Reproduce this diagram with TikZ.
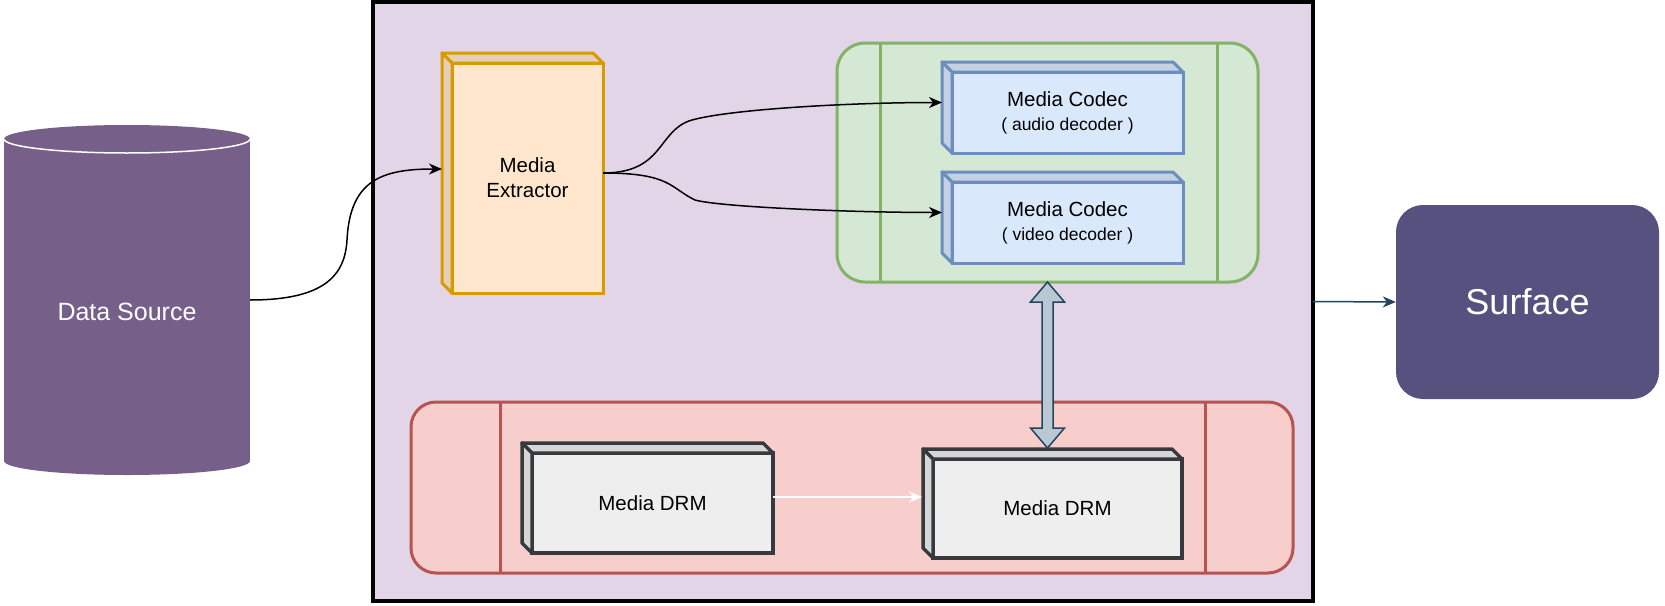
\documentclass[tikz,border=0pt]{standalone}
\usepackage{fontspec}
\setmainfont{Liberation Sans}
\usepackage{xcolor}
\usepackage{tikz}
\usetikzlibrary{positioning}
\usetikzlibrary{arrows.meta}
\usetikzlibrary{calc}

\definecolor{frameFill}{HTML}{E1D5E7}
\definecolor{srcFill}{HTML}{76608A}
\definecolor{extFill}{HTML}{FFE6CC}
\definecolor{extLine}{HTML}{D79B00}
\definecolor{codecBg}{HTML}{D5E8D4}
\definecolor{codecBgLine}{HTML}{82B366}
\definecolor{codecFill}{HTML}{DAE8FC}
\definecolor{codecLine}{HTML}{6C8EBF}
\definecolor{drmBg}{HTML}{F8CECC}
\definecolor{drmBgLine}{HTML}{B85450}
\definecolor{drmFill}{HTML}{EEEEEE}
\definecolor{drmLine}{HTML}{36393D}
\definecolor{surfFill}{HTML}{56517E}
\definecolor{linkFill}{HTML}{BAC8D3}
\definecolor{linkLine}{HTML}{23445D}

\newcommand{\subline}{\fontsize{17.5}{21}\selectfont}

% side faces of a box, depth to the upper left
\newcommand{\boxfaces}[4]{%
  \filldraw[fill=#2!90!black, draw=#3, line width=#4, line join=round]
    (#1.north west) -- ++(-10,-10) -- ([xshift=-10pt,yshift=10pt]#1.north east)
    -- (#1.north east) -- cycle;
  \filldraw[fill=#2!90!black, draw=#3, line width=#4, line join=round]
    (#1.north west) -- ++(-10,-10) -- ([xshift=-10pt,yshift=10pt]#1.south west)
    -- (#1.south west) -- cycle;
}

\begin{document}
\begin{tikzpicture}
  [ x=1pt, y=-1pt,
    frame/.style={draw=black, line width=4pt, fill=frameFill, inner sep=0pt,
      outer sep=0pt, minimum width=939.5pt, minimum height=599pt},
    store/.style={fill=srcFill, minimum width=246pt, minimum height=322pt,
      inner sep=0pt, outer sep=0pt},
    storetext/.style={text=white, yshift=-12pt,
      font=\fontsize{25}{30}\selectfont},
    storecap/.style={x radius=123pt, y radius=14pt},
    cube/.style={inner sep=0pt, outer sep=0pt, align=center, line width=3pt,
      font=\fontsize{20.5}{25}\selectfont},
    extbox/.style={cube, draw=extLine, fill=extFill,
      minimum width=151pt, minimum height=230pt},
    codecbox/.style={cube, draw=codecLine, fill=codecFill,
      minimum width=231pt, minimum height=81pt},
    drmbox/.style={cube, draw=drmLine, fill=drmFill, line width=3.5pt,
      minimum height=100pt},
    lane/.style={inner sep=0pt, outer sep=0pt, line width=3pt},
    surf/.style={rounded corners=27pt, fill=surfFill, text=white,
      minimum width=263pt, minimum height=194pt,
      font=\fontsize{36}{43}\selectfont},
    flow/.style={line width=1.5pt,
      -{Stealth[length=13pt, width=11pt, inset=4pt]}},
    biarrow/.style={fill=linkFill, draw=linkLine, line width=1.5pt,
      line join=miter}
  ]
  \useasboundingbox (0,0) rectangle (1665,605);

  \node (frame) at (842.75,301.5) [frame] {};

  % data source cylinder
  \node (src) at (127,300) [store, label={[storetext]center:Data Source}] {};
  \fill [srcFill] (src.north) ellipse [storecap];
  \fill [srcFill] (src.south) ellipse [storecap];
  \draw [white, line width=1.5pt]
    (src.north west) arc [start angle=180, end angle=360, storecap];

  % codec lane
  \node (codecs) at (1047.5,162.5) [lane, draw=codecBgLine, fill=codecBg,
    rounded corners=28pt, minimum width=421pt, minimum height=239pt] {};
  \draw [codecBgLine, line width=3pt]
    ([xshift=43pt]codecs.north west) -- ([xshift=43pt]codecs.south west)
    ([xshift=-41pt]codecs.north east) -- ([xshift=-41pt]codecs.south east);

  % drm lane
  \node (drms) at (852,487.5) [lane, draw=drmBgLine, fill=drmBg,
    rounded corners=25pt, minimum width=882pt, minimum height=171pt] {};
  \draw [drmBgLine, line width=3pt]
    ([xshift=89pt]drms.north west) -- ([xshift=89pt]drms.south west)
    ([xshift=-88pt]drms.north east) -- ([xshift=-88pt]drms.south east);

  \node (ext)  at (527.5,178)  [extbox] {Media\\Extractor};
  \node (aud)  at (1067.5,112.5) [codecbox]
    {Media Codec\\[-1pt]{\subline ( audio decoder )}};
  \node (vid)  [codecbox, below=29pt of aud]
    {Media Codec\\[-1pt]{\subline ( video decoder )}};
  \node (drm1) at (652.5,503)  [drmbox, minimum width=241pt] {Media DRM};
  \node (drm2) at (1057.5,508.5) [drmbox, minimum width=249pt,
    minimum height=99pt] {Media DRM};

  \boxfaces{ext}{extFill}{extLine}{3pt}
  \boxfaces{aud}{codecFill}{codecLine}{3pt}
  \boxfaces{vid}{codecFill}{codecLine}{3pt}
  \boxfaces{drm1}{drmFill}{drmLine}{3.5pt}
  \boxfaces{drm2}{drmFill}{drmLine}{3.5pt}

  \node (out) at (1527.5,302) [surf] {Surface};

  % connectors
  \draw [flow] (src.east) .. controls +(75,0) and +(-2,35) .. (347,240)
    .. controls +(3,-60) and +(-60,0) .. ([xshift=-10pt,yshift=9pt]ext.west);
  \draw [flow] ([yshift=5pt]ext.east) .. controls +(62,0) and +(-35,10) .. (692,120)
    .. controls +(40,-11) and +(-90,0) .. ([xshift=-10pt,yshift=10pt]aud.west);
  \draw [flow] ([yshift=5pt]ext.east) .. controls +(68,0) and +(-25,-12) .. (695,200)
    .. controls +(25,7) and +(-90,0) .. ([xshift=-10pt,yshift=10pt]vid.west);
  \draw [flow, white, shorten >=11pt]
    ([yshift=6pt]drm1.east) -- ([yshift=6pt]drm1.east -| drm2.west);
  \draw [flow, linkLine] (frame.east) -- (out.west);

  \coordinate (ga) at (codecs.south);
  \coordinate (gb) at ([yshift=11pt]ga |- drm2.north);
  \draw [biarrow] (ga) -- ++(17,20) -- ++(-11.5,0) -- ($(gb)+(5.5,-20)$)
    -- ++(11.5,0) -- (gb) -- ++(-17,-20) -- ++(11.5,0)
    -- ($(ga)+(-5.5,20)$) -- ++(-11.5,0) -- cycle;
\end{tikzpicture}
\end{document}
